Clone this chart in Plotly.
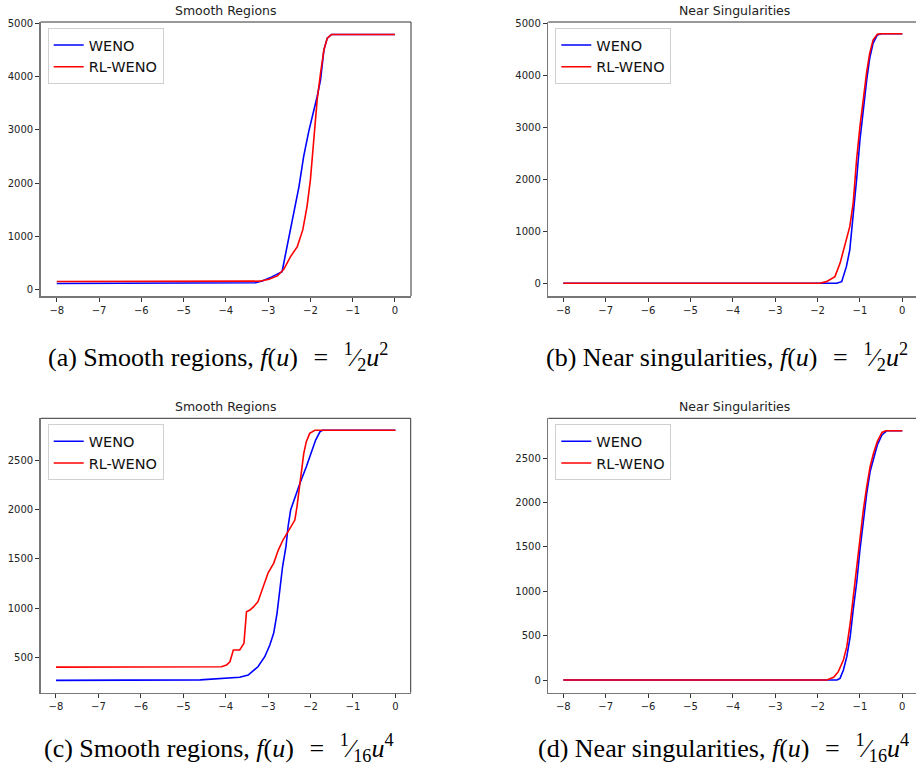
import plotly.graph_objects as go

W, H = 916, 774

# ---------------- data ----------------
x_ticks = [-8, -7, -6, -5, -4, -3, -2, -1, 0]
x_tick_labels = ["\u22128", "\u22127", "\u22126", "\u22125", "\u22124", "\u22123", "\u22122", "\u22121", "0"]

# (a) Smooth regions, f(u) = u^2/2
a_weno_u = [-8, -3.6, -3.3, -3.14, -2.90, -2.67, -2.57, -2.47, -2.27, -2.16, -2.04, -1.84, -1.76, -1.68, -1.60, -1.50, 0]
a_weno_v = [120, 122, 135, 169, 250, 344, 750, 1157, 1938, 2501, 2970, 3627, 3940, 4503, 4722, 4790, 4790]
a_rl_u = [-8, -3.2, -2.98, -2.78, -2.63, -2.47, -2.31, -2.18, -2.08, -2.00, -1.92, -1.84, -1.76, -1.68, -1.60, -1.50, 0]
a_rl_v = [160, 165, 200, 263, 388, 625, 813, 1126, 1563, 2064, 2814, 3565, 4065, 4503, 4722, 4790, 4790]

# (b) Near singularities, f(u) = u^2/2
b_weno_u = [-8, -1.55, -1.43, -1.32, -1.24, -1.16, -1.08, -1.00, -0.92, -0.84, -0.77, -0.69, -0.59, -0.49, 0]
b_weno_v = [0, 0, 32, 320, 640, 1282, 1987, 2756, 3397, 3910, 4327, 4615, 4776, 4800, 4800]
b_rl_u = [-8, -1.95, -1.79, -1.59, -1.47, -1.36, -1.24, -1.16, -1.08, -1.00, -0.92, -0.84, -0.77, -0.69, -0.59, -0.49, 0]
b_rl_v = [0, 0, 32, 128, 384, 705, 1090, 1538, 2371, 3012, 3590, 4070, 4423, 4679, 4790, 4800, 4800]

# (c) Smooth regions, f(u) = u^4/16
c_weno_u = [-8, -4.6, -3.67, -3.47, -3.24, -3.08, -2.96, -2.87, -2.79, -2.72, -2.66, -2.58, -2.53, -2.47, -2.37, -2.25, -2.10, -1.98, -1.88, -1.78, -1.72, 0]
c_weno_v = [265, 270, 297, 320, 404, 506, 625, 744, 947, 1218, 1421, 1625, 1828, 1998, 2133, 2270, 2438, 2591, 2710, 2794, 2810, 2810]
c_rl_u = [-8, -4.10, -3.98, -3.90, -3.82, -3.67, -3.57, -3.51, -3.43, -3.34, -3.24, -3.12, -3.00, -2.87, -2.76, -2.65, -2.51, -2.37, -2.32, -2.27, -2.21, -2.16, -2.10, -2.02, -1.90, 0]
c_rl_v = [400, 404, 422, 455, 574, 574, 642, 964, 981, 1015, 1066, 1218, 1360, 1456, 1591, 1693, 1795, 1896, 2032, 2201, 2422, 2575, 2693, 2778, 2810, 2810]

# (d) Near singularities, f(u) = u^4/16
d_weno_u = [-8, -1.54, -1.47, -1.39, -1.31, -1.23, -1.16, -1.07, -1.00, -0.92, -0.84, -0.76, -0.68, -0.59, -0.48, -0.37, 0]
d_weno_v = [0, 0, 19, 113, 263, 488, 789, 1128, 1466, 1804, 2105, 2350, 2500, 2650, 2763, 2810, 2810]
d_rl_u = [-8, -1.78, -1.62, -1.51, -1.39, -1.31, -1.23, -1.16, -1.07, -1.00, -0.92, -0.84, -0.76, -0.68, -0.59, -0.48, -0.39, 0]
d_rl_v = [0, 0, 30, 94, 226, 376, 639, 939, 1278, 1616, 1917, 2180, 2406, 2556, 2688, 2791, 2810, 2810]

y_ticks_top = [0, 1000, 2000, 3000, 4000, 5000]
y_ticks_c = [500, 1000, 1500, 2000, 2500]
y_ticks_d = [0, 500, 1000, 1500, 2000, 2500]

titles = ["Smooth Regions", "Near Singularities", "Smooth Regions", "Near Singularities"]
SP = "\u2009\u2009\u2009"
captions = [
    "(a) Smooth regions, <i>f</i>(<i>u</i>)" + SP + "=" + SP + "<sup>1</sup>\u2044<sub>2</sub><i>u</i><sup>2</sup>",
    "(b) Near singularities, <i>f</i>(<i>u</i>)" + SP + "=" + SP + "<sup>1</sup>\u2044<sub>2</sub><i>u</i><sup>2</sup>",
    "(c) Smooth regions, <i>f</i>(<i>u</i>)" + SP + "=" + SP + "<sup>1</sup>\u2044<sub>16</sub><i>u</i><sup>4</sup>",
    "(d) Near singularities, <i>f</i>(<i>u</i>)" + SP + "=" + SP + "<sup>1</sup>\u2044<sub>16</sub><i>u</i><sup>4</sup>",
]
series_names = ["WENO", "RL-WENO"]

# ---------------- layout geometry (pixels) ----------------
# left, right, top, bottom of each axes box
boxes = [
    (40.7, 411.0, 22.0, 296.0),
    (548.3, 916.0, 22.0, 296.0),
    (40.7, 410.7, 418.3, 692.7),
    (548.3, 916.0, 418.3, 692.7),
]
x_ranges = [[-8.38, 0.38], [-8.354, 0.323], [-8.36, 0.36], [-8.354, 0.323]]
y_ranges = [[-113, 5024], [-244, 5025], [140, 2931], [-143, 2951]]
y_tickvals = [y_ticks_top, y_ticks_top, y_ticks_c, y_ticks_d]
title_cx = [226, 734, 226, 734]
caption_cx = [218, 727, 219, 723]
caption_cy = [357, 357, 748, 748]
data = [
    (a_weno_u, a_weno_v, a_rl_u, a_rl_v),
    (b_weno_u, b_weno_v, b_rl_u, b_rl_v),
    (c_weno_u, c_weno_v, c_rl_u, c_rl_v),
    (d_weno_u, d_weno_v, d_rl_u, d_rl_v),
]


def px(x):
    return x / W


def py(y):
    return 1 - y / H


fig = go.Figure()
shapes = []
annotations = []
layout = {}
tick_font = dict(family="DejaVu Sans", size=10, color="#222")

for i in range(4):
    n = "" if i == 0 else str(i + 1)
    xa, ya = "x" + n, "y" + n
    leg = "legend" if i == 0 else "legend" + str(i + 1)
    wu, wv, ru, rv = data[i]
    fig.add_trace(go.Scatter(x=wu, y=wv, mode="lines", name=series_names[0],
                             line=dict(color="#0000ff", width=1.6),
                             xaxis=xa, yaxis=ya, legend=leg, showlegend=True))
    fig.add_trace(go.Scatter(x=ru, y=rv, mode="lines", name=series_names[1],
                             line=dict(color="#ff0000", width=1.6),
                             xaxis=xa, yaxis=ya, legend=leg, showlegend=True))
    l, r, t, b = boxes[i]
    layout["xaxis" + n] = dict(
        domain=[px(l), px(r)], range=x_ranges[i], anchor=ya, automargin=False,
        tickvals=x_ticks, ticktext=x_tick_labels, ticks="outside", ticklen=4,
        tickcolor="#333", tickwidth=1, showline=True, linecolor="#777", linewidth=1.5,
        showgrid=False, zeroline=False, tickfont=tick_font, fixedrange=True,
    )
    layout["yaxis" + n] = dict(
        domain=[py(b), py(t)], range=y_ranges[i], anchor=xa, automargin=False,
        tickvals=y_tickvals[i], ticks="outside", ticklen=4,
        tickcolor="#333", tickwidth=1, showline=True, linecolor="#777", linewidth=1.5,
        showgrid=False, zeroline=False, tickfont=tick_font, fixedrange=True,
    )
    # top spine
    shapes.append(dict(type="line", xref="paper", yref="paper",
                       x0=px(l), x1=px(r), y0=py(t), y1=py(t),
                       line=dict(color="#333", width=1)))
    if r < W - 1:
        shapes.append(dict(type="line", xref="paper", yref="paper",
                           x0=px(r), x1=px(r), y0=py(t), y1=py(b),
                           line=dict(color="#333", width=1)))
    layout[leg] = dict(
        x=px(l + 7), y=py(t + 6), xanchor="left", yanchor="top",
        bgcolor="rgba(255,255,255,0.85)", bordercolor="#d0d0d0", borderwidth=1,
        font=dict(family="DejaVu Sans", size=14.5, color="#111"),
        itemwidth=30, tracegroupgap=0,
    )
    annotations.append(dict(
        text=titles[i], xref="paper", yref="paper", x=px(title_cx[i]), y=py(t - 2),
        xanchor="center", yanchor="bottom", showarrow=False,
        font=dict(family="DejaVu Sans", size=12.5, color="#222"),
    ))
    annotations.append(dict(
        text=captions[i], xref="paper", yref="paper", x=px(caption_cx[i]), y=py(caption_cy[i]),
        xanchor="center", yanchor="middle", showarrow=False,
        font=dict(family="Liberation Serif", size=26, color="#000"),
    ))

fig.update_layout(
    width=W, height=H, margin=dict(l=0, r=0, t=0, b=0),
    paper_bgcolor="white", plot_bgcolor="white", hovermode=False,
    shapes=shapes, annotations=annotations, **layout,
)

fig.write_html(
    "out.html",
    config={"displayModeBar": False, "staticPlot": True},
    post_script="document.body.style.margin='0px';document.body.style.overflow='hidden';",
)
